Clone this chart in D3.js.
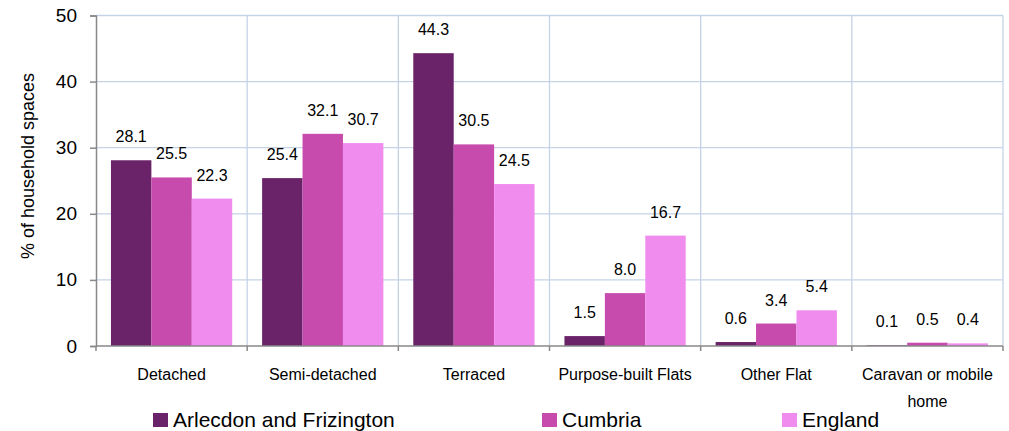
<!DOCTYPE html>
<html>
<head>
<meta charset="utf-8">
<script src="https://cdn.jsdelivr.net/npm/d3@7"></script>
<style>
  body { margin: 0; background: #fff; }
  svg { font-family: "Liberation Sans", Arial, sans-serif; }
</style>
</head>
<body>
<div class="graph"></div>
<script>
let categories = ["Detached", "Semi-detached", "Terraced", "Purpose-built Flats", "Other Flat", "Caravan or mobile home"];
let seriesNames = ["Arlecdon and Frizington", "Cumbria", "England"];
let arlecdon = [28.1, 25.4, 44.3, 1.5, 0.6, 0.1];
let cumbria = [25.5, 32.1, 30.5, 8.0, 3.4, 0.5];
let england = [22.3, 30.7, 24.5, 16.7, 5.4, 0.4];
let yTicks = [0, 10, 20, 30, 40, 50];
let colors = ["#6a2369", "#c74aad", "#f18cef"];

let w = 1009;
let h = 431;
let mLeft = 96, mRight = 1003, mTop = 15.5, mBottom = 346;

let svg = d3.select(".graph").append("svg").attr("width", w).attr("height", h);

let x0 = d3.scaleBand().domain(categories).range([mLeft, mRight]).paddingInner(0).paddingOuter(0);
let x1 = d3.scaleBand().domain(seriesNames).range([0, x0.bandwidth()]).paddingOuter(0.37).paddingInner(0);
let y = d3.scaleLinear().domain([0, 50]).range([mBottom, mTop]);

// horizontal gridlines
svg.append("g")
  .selectAll("line")
  .data(yTicks.slice(1))
  .enter()
  .append("line")
  .attr("x1", mLeft).attr("x2", mRight)
  .attr("y1", d => y(d)).attr("y2", d => y(d))
  .attr("stroke", "#c5d3e6").attr("stroke-width", 1.3);

// vertical gridlines at category boundaries
let bounds = categories.map(c => x0(c) + x0.bandwidth());
svg.append("g")
  .selectAll("line")
  .data(bounds)
  .enter()
  .append("line")
  .attr("x1", d => d).attr("x2", d => d)
  .attr("y1", mTop).attr("y2", mBottom)
  .attr("stroke", "#c5d3e6").attr("stroke-width", 1.3);

let data = categories.map((c, i) => ({ cat: c, vals: [arlecdon[i], cumbria[i], england[i]] }));

let groups = svg.append("g")
  .selectAll("g")
  .data(data)
  .enter()
  .append("g")
  .attr("transform", d => "translate(" + x0(d.cat) + ",0)");

groups.selectAll("rect")
  .data(d => d.vals.map((v, j) => ({ s: seriesNames[j], v: v, j: j })))
  .enter()
  .append("rect")
  .attr("x", d => x1(d.s))
  .attr("y", d => y(d.v))
  .attr("width", x1.bandwidth())
  .attr("height", d => mBottom - y(d.v))
  .style("fill", d => colors[d.j]);

groups.selectAll("text")
  .data(d => d.vals.map((v, j) => ({ s: seriesNames[j], v: v, j: j })))
  .enter()
  .append("text")
  .attr("x", d => x1(d.s) + x1.bandwidth() / 2)
  .attr("y", d => y(d.v) - 18)
  .attr("text-anchor", "middle")
  .style("font-size", "16px")
  .style("fill", "#000")
  .text(d => d.v.toFixed(1));

// y axis
let yAxis = d3.axisLeft(y).tickValues(yTicks).tickSize(6).tickPadding(13);
let ya = svg.append("g").attr("transform", "translate(" + mLeft + ",0)").call(yAxis);
ya.select(".domain").attr("stroke", "#888").attr("stroke-width", 1.5);
ya.selectAll(".tick line").attr("stroke", "#888").attr("stroke-width", 1.5);
ya.selectAll(".tick text").style("font-size", "19px").style("font-family", "Liberation Sans, Arial, sans-serif").attr("fill", "#000");

// x axis line + ticks at boundaries
svg.append("line")
  .attr("x1", mLeft).attr("x2", mRight).attr("y1", mBottom).attr("y2", mBottom)
  .attr("stroke", "#888").attr("stroke-width", 1.5);
svg.append("g")
  .selectAll("line")
  .data([mLeft].concat(bounds))
  .enter()
  .append("line")
  .attr("x1", d => d).attr("x2", d => d)
  .attr("y1", mBottom).attr("y2", mBottom + 5)
  .attr("stroke", "#888").attr("stroke-width", 1.5);

// category labels
let catLines = { "Caravan or mobile home": ["Caravan or mobile", "home"] };
svg.append("g")
  .selectAll("text")
  .data(categories)
  .enter()
  .append("text")
  .attr("x", d => x0(d) + x0.bandwidth() / 2)
  .attr("y", 380)
  .attr("text-anchor", "middle")
  .style("font-size", "16px")
  .each(function (d) {
    let lines = catLines[d] || [d];
    let t = d3.select(this);
    lines.forEach((l, i) => {
      t.append("tspan").attr("x", x0(d) + x0.bandwidth() / 2).attr("dy", i === 0 ? 0 : 27).text(l);
    });
  });

// y axis title
svg.append("text")
  .attr("transform", "translate(34,166) rotate(-90)")
  .attr("text-anchor", "middle")
  .style("font-size", "18px")
  .text("% of household spaces");

// legend
let legendX = [153, 542, 782];
let legend = svg.append("g")
  .selectAll("g")
  .data(seriesNames)
  .enter()
  .append("g")
  .attr("transform", (d, i) => "translate(" + legendX[i] + ",413)");
legend.append("rect").attr("width", 15).attr("height", 14).style("fill", (d, i) => colors[i]);
legend.append("text").attr("x", 20).attr("y", 14).style("font-size", "21px").text(d => d);
</script>
</body>
</html>
